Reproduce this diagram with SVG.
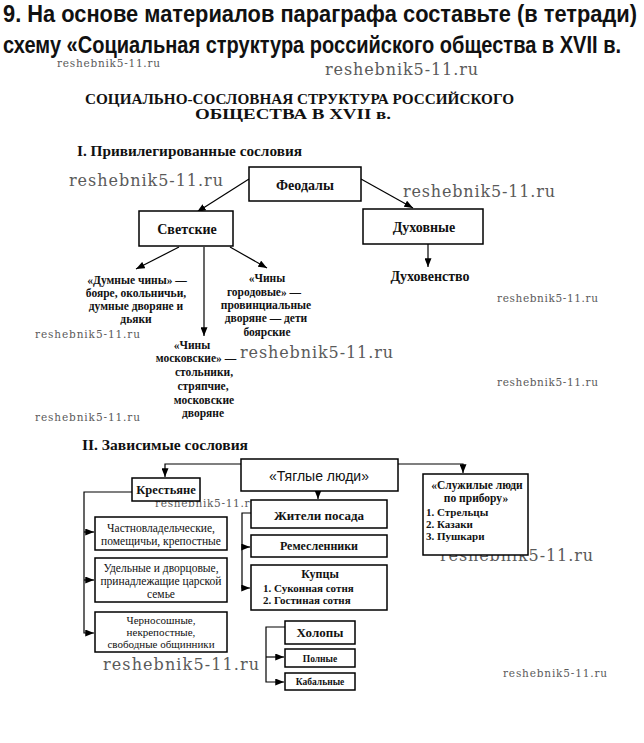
<svg xmlns="http://www.w3.org/2000/svg" width="644" height="743" viewBox="0 0 644 743">
<defs>
<marker id="ah" viewBox="0 0 10 8" refX="10" refY="4" markerWidth="9" markerHeight="7" markerUnits="userSpaceOnUse" orient="auto"><path d="M0,0 L10,4 L0,8 z" fill="#000"/></marker>
</defs>
<style>
.hd{font-family:"Liberation Sans",Arial,sans-serif;font-weight:bold;font-size:20px;fill:#111}
.wm{font-family:"DejaVu Serif",serif;fill:#5a5a5a}
.wl{font-size:16px}
.ws{font-size:10.5px}
.t{font-family:"Liberation Serif","Times New Roman",serif;fill:#111}
.s{font-family:"Liberation Sans",Arial,sans-serif;fill:#111}
.b{font-weight:bold}
.c{text-anchor:middle}
.box{fill:#fff;stroke:#000;stroke-width:1.5}
.ln{fill:none;stroke:#000;stroke-width:1.2}
.ar{marker-end:url(#ah)}
</style>
<rect width="644" height="743" fill="#fff"/>

<g id="header">
<text class="hd" transform="translate(3,22) scale(1,1.18)" x="0" y="0" textLength="634" lengthAdjust="spacingAndGlyphs">9. На основе материалов параграфа составьте (в тетради)</text>
<text class="hd" transform="translate(3,53) scale(1,1.18)" x="0" y="0" textLength="618" lengthAdjust="spacingAndGlyphs">схему «Социальная структура российского общества в XVII в.</text>
</g>

<g id="watermarks">
<text class="wm ws" x="57" y="67" textLength="103">reshebnik5-11.ru</text>
<text class="wm wl" x="325" y="75" textLength="153">reshebnik5-11.ru</text>
<text class="wm wl" x="69" y="186" textLength="154">reshebnik5-11.ru</text>
<text class="wm wl" x="403" y="197" textLength="152">reshebnik5-11.ru</text>
<text class="wm ws" x="497" y="302" textLength="101">reshebnik5-11.ru</text>
<text class="wm ws" x="35" y="338" textLength="105">reshebnik5-11.ru</text>
<text class="wm wl" x="240" y="358" textLength="153">reshebnik5-11.ru</text>
<text class="wm ws" x="497" y="386" textLength="101">reshebnik5-11.ru</text>
<text class="wm ws" x="35" y="421" textLength="105">reshebnik5-11.ru</text>
<text class="wm ws" x="155" y="507" textLength="102">reshebnik5-11.ru</text>
<text class="wm wl" x="440" y="561" textLength="153">reshebnik5-11.ru</text>
<text class="wm wl" x="103" y="670" textLength="156">reshebnik5-11.ru</text>
<text class="wm ws" x="503" y="677" textLength="104">reshebnik5-11.ru</text>
</g>

<g id="title">
<text class="t b" x="85" y="104" font-size="15" textLength="429" lengthAdjust="spacingAndGlyphs">СОЦИАЛЬНО-СОСЛОВНАЯ СТРУКТУРА РОССИЙСКОГО</text>
<text class="t b" x="195" y="119" font-size="15" textLength="196" lengthAdjust="spacingAndGlyphs">ОБЩЕСТВА В XVII в.</text>
<text class="t b" x="77" y="156" font-size="14" textLength="225" lengthAdjust="spacingAndGlyphs">I. Привилегированные сословия</text>
<text class="t b" x="82" y="450" font-size="14" textLength="166" lengthAdjust="spacingAndGlyphs">II. Зависимые сословия</text>
</g>

<g id="connectors">
<path class="ln ar" d="M249,179 L197,212"/>
<path class="ln ar" d="M361,179 L413,208"/>
<path class="ln ar" d="M179,247 L136,269"/>
<path class="ln ar" d="M204,247 L204,336"/>
<path class="ln ar" d="M230,247 L267,268"/>
<path class="ln ar" d="M428,244 L428,267"/>
<path class="ln ar" d="M241,464 H165 V477"/>
<path class="ln ar" d="M398,464 H463 V473"/>
<path class="ln ar" d="M318,491 V499"/>
<path class="ln ar" d="M251,513 H242 V588 H250"/>
<path class="ln ar" d="M242,547 H250"/>
<path class="ln ar" d="M132,492 H84 V633 H94"/>
<path class="ln ar" d="M84,532 H94"/>
<path class="ln ar" d="M84,580 H94"/>
<path class="ln ar" d="M285,627 H266 V682 H284"/>
<path class="ln ar" d="M266,657 H284"/>
</g>

<g id="feodaly">
<rect class="box" x="249" y="167" width="112" height="34"/>
<text class="t b c" x="305" y="190" font-size="14">Феодалы</text>
</g>
<g id="svetskie">
<rect class="box" x="139" y="211" width="94" height="35"/>
<text class="t b c" x="187" y="234" font-size="14">Светские</text>
</g>
<g id="duhovnye">
<rect class="box" x="363" y="209" width="120" height="35"/>
<text class="t b c" x="424" y="232" font-size="14">Духовные</text>
</g>
<g id="duhovenstvo">
<text class="t b c" x="430" y="281" font-size="14">Духовенство</text>
</g>
<g id="dumnye">
<text class="t b c" font-size="11.5"><tspan x="137" y="284">«Думные чины» —</tspan><tspan x="136" y="297">бояре, окольничьи,</tspan><tspan x="136" y="310">думные дворяне и</tspan><tspan x="136" y="323">дьяки</tspan></text>
</g>
<g id="gorodovye">
<text class="t b c" font-size="11.5"><tspan x="267" y="282">«Чины</tspan><tspan x="264" y="296">городовые» —</tspan><tspan x="266" y="309">провинциальные</tspan><tspan x="266" y="322">дворяне — дети</tspan><tspan x="267" y="336">боярские</tspan></text>
</g>
<g id="moskovskie">
<text class="t b c" font-size="11.5"><tspan x="192" y="349">«Чины</tspan><tspan x="196" y="362">московские» —</tspan><tspan x="204" y="376">стольники,</tspan><tspan x="203" y="390">стряпчие,</tspan><tspan x="204" y="404">московские</tspan><tspan x="203" y="417">дворяне</tspan></text>
</g>

<g id="tyaglye">
<rect class="box" x="241" y="459" width="157" height="32"/>
<text class="s c" x="319" y="481" font-size="14">«Тяглые люди»</text>
</g>
<g id="krestyane">
<rect class="box" x="132" y="478" width="68" height="23"/>
<text class="t b c" x="166" y="494" font-size="12.5">Крестьяне</text>
</g>
<g id="chastnovl">
<rect class="box" x="95" y="517" width="132" height="33"/>
<text class="t c" font-size="11.5"><tspan x="161" y="532">Частновладельческие,</tspan><tspan x="161" y="545">помещичьи, крепостные</tspan></text>
</g>
<g id="udelnye">
<rect class="box" x="95" y="558" width="132" height="44"/>
<text class="t c" font-size="11.5"><tspan x="161" y="572">Удельные и дворцовые,</tspan><tspan x="161" y="585">принадлежащие царской</tspan><tspan x="161" y="598">семье</tspan></text>
</g>
<g id="chernososhnye">
<rect class="box" x="95" y="612" width="132" height="40"/>
<text class="t c" font-size="11"><tspan x="161" y="624">Черносошные,</tspan><tspan x="161" y="636">некрепостные,</tspan><tspan x="161" y="648">свободные общинники</tspan></text>
</g>
<g id="zhiteli">
<rect class="box" x="251" y="500" width="136" height="28"/>
<text class="t b c" x="319" y="520" font-size="13">Жители посада</text>
</g>
<g id="remeslenniki">
<rect class="box" x="251" y="535" width="136" height="22"/>
<text class="t b c" x="319" y="550" font-size="12">Ремесленники</text>
</g>
<g id="kuptsy">
<rect class="box" x="251" y="565" width="136" height="45"/>
<text class="t b c" x="320" y="578" font-size="12">Купцы</text>
<text class="t b" font-size="11"><tspan x="263" y="592">1. Суконная сотня</tspan><tspan x="263" y="604">2. Гостиная сотня</tspan></text>
</g>
<g id="holopy">
<rect class="box" x="285" y="621" width="70" height="23"/>
<text class="t b c" x="320" y="637" font-size="13">Холопы</text>
</g>
<g id="polnye">
<rect class="box" x="285" y="649" width="70" height="18"/>
<text class="t b c" x="320" y="662" font-size="9.5">Полные</text>
</g>
<g id="kabalnye">
<rect class="box" x="285" y="673" width="70" height="17"/>
<text class="t b c" x="320" y="685" font-size="9.5">Кабальные</text>
</g>
<g id="sluzhilye">
<rect class="box" x="423" y="474" width="105" height="81"/>
<text class="t b c" font-size="11.5"><tspan x="477" y="489">«Служилые люди</tspan><tspan x="476" y="502">по прибору»</tspan></text>
<text class="t b" font-size="11"><tspan x="426" y="516">1. Стрельцы</tspan><tspan x="426" y="528">2. Казаки</tspan><tspan x="426" y="540">3. Пушкари</tspan></text>
</g>
</svg>
